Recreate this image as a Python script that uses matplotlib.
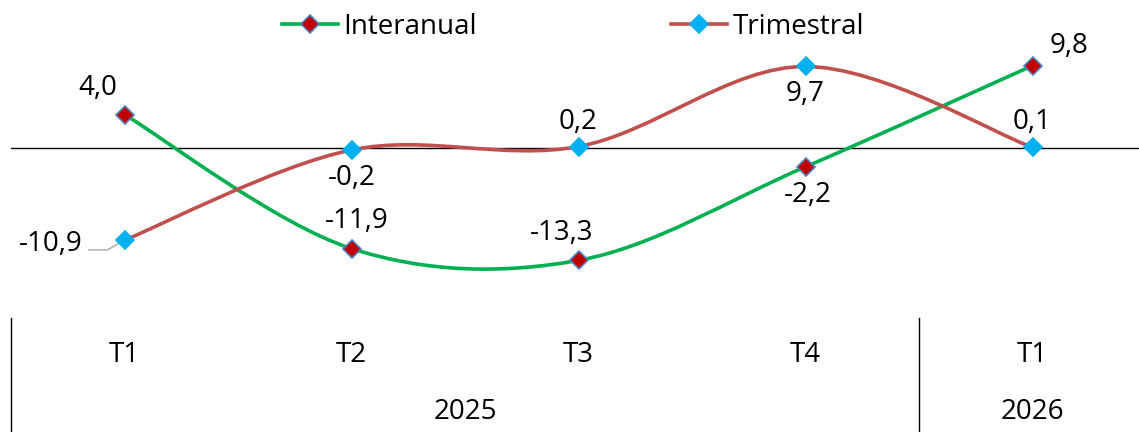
import numpy as np
import matplotlib
matplotlib.use("Agg")
import matplotlib.pyplot as plt
import matplotlib.transforms as mtransforms
from matplotlib.path import Path
from matplotlib.patches import PathPatch
from matplotlib.lines import Line2D

plt.rcParams['font.family'] = ['Open Sans', 'DejaVu Sans']

# Data
quarters = ["T1", "T2", "T3", "T4", "T1"]
years = ["2025", "2026"]
year_spans = [(0, 3), (4, 4)]
interanual = [4.0, -11.9, -13.3, -2.2, 9.8]
trimestral = [-10.9, -0.2, 0.2, 9.7, 0.1]

green = "#00B050"
red = "#C0504D"
dark_red = "#C00000"
blue_edge = "#4F81BD"
cyan = "#00B0F0"


def smooth_path(xs, ys):
    # Excel-like smoothed line: Catmull-Rom converted to cubic Bezier segments
    p = np.column_stack([xs, ys]).astype(float)
    ext = np.vstack([p[0], p, p[-1]])
    verts = [p[0]]
    codes = [Path.MOVETO]
    for i in range(len(p) - 1):
        p0, p1, p2, p3 = ext[i], ext[i + 1], ext[i + 2], ext[i + 3]
        c1 = p1 + (p2 - p0) / 6
        c2 = p2 - (p3 - p1) / 6
        verts += [c1, c2, p2]
        codes += [Path.CURVE4] * 3
    return Path(verts, codes)


fig = plt.figure(figsize=(11.39, 4.32), dpi=100)
# axes spans 5 categories, right edge slightly beyond the figure
ax = fig.add_axes([11 / 1139, (432 - 300) / 432, 1135 / 1139, 290 / 432])
ax.set_xlim(-0.5, 4.5)
ax.set_ylim(-18.0, 16.4)
ax.axis("off")

x = np.arange(len(quarters))
ax.axhline(0, color="black", lw=1.0, zorder=1)

ax.add_patch(PathPatch(smooth_path(x, interanual), fill=False, ec=green, lw=2.6, zorder=2))
ax.add_patch(PathPatch(smooth_path(x, trimestral), fill=False, ec=red, lw=2.6, zorder=2))
ax.plot(x, interanual, ls="none", marker="D", ms=9.5, mfc=dark_red, mec=blue_edge, mew=1.2, zorder=4)
ax.plot(x, trimestral, ls="none", marker="D", ms=9.5, mfc=cyan, mec=cyan, mew=1.2, zorder=4)


def fmt(v):
    return f"{v:.1f}".replace(".", ",")


fs = 20
# Interanual labels
ia_off = [(-19, 19), (4, 20), (-12, 20), (2, -20), (26, 14)]
for xi, v, off in zip(x, interanual, ia_off):
    ax.annotate(fmt(v), (xi, v), xytext=off, textcoords="offset points",
                ha="center", va="center", fontsize=fs)
# Trimestral labels
tr_off = [None, (0, -20), (0, 18), (0, -20), (0, 18)]
for xi, v, off in zip(x, trimestral, tr_off):
    if off is None:
        continue
    ax.annotate(fmt(v), (xi, v), xytext=off, textcoords="offset points",
                ha="center", va="center", fontsize=fs)
ax.annotate(fmt(trimestral[0]), (x[0], trimestral[0]), xytext=(-53, -3),
            textcoords="offset points", ha="center", va="center", fontsize=fs,
            arrowprops=dict(arrowstyle="-", color="#A6A6A6", lw=1.0,
                            connectionstyle="angle,angleA=0,angleB=30,rad=0",
                            shrinkA=2, shrinkB=0, relpos=(1.0, 0.3)))

# Category axis below
trans = mtransforms.blended_transform_factory(ax.transData, fig.transFigure)
for xi, q in zip(x, quarters):
    ax.text(xi, 1 - 355 / 432, q, transform=trans, ha="center", va="center", fontsize=fs)
for (a, b), yr in zip(year_spans, years):
    ax.text((a + b) / 2, 1 - 412 / 432, yr, transform=trans, ha="center", va="center", fontsize=fs)
for xb in [-0.5, 3.5, 4.5]:
    ax.add_line(Line2D([xb, xb], [0, 1 - 318 / 432], transform=trans, color="black",
                       lw=1.0, clip_on=False))

# Legend
handles = [
    Line2D([], [], color=green, lw=2.6, marker="D", ms=9.5, mfc=dark_red, mec=blue_edge, mew=1.2),
    Line2D([], [], color=red, lw=2.6, marker="D", ms=9.5, mfc=cyan, mec=cyan, mew=1.2),
]
fig.legend(handles, ["Interanual", "Trimestral"], loc="center", bbox_to_anchor=(0.503, 1 - 27 / 432),
           ncol=2, frameon=False, fontsize=fs, handlelength=2.0, handletextpad=0.2,
           columnspacing=7.0)

fig.savefig("out.png", dpi=100)
